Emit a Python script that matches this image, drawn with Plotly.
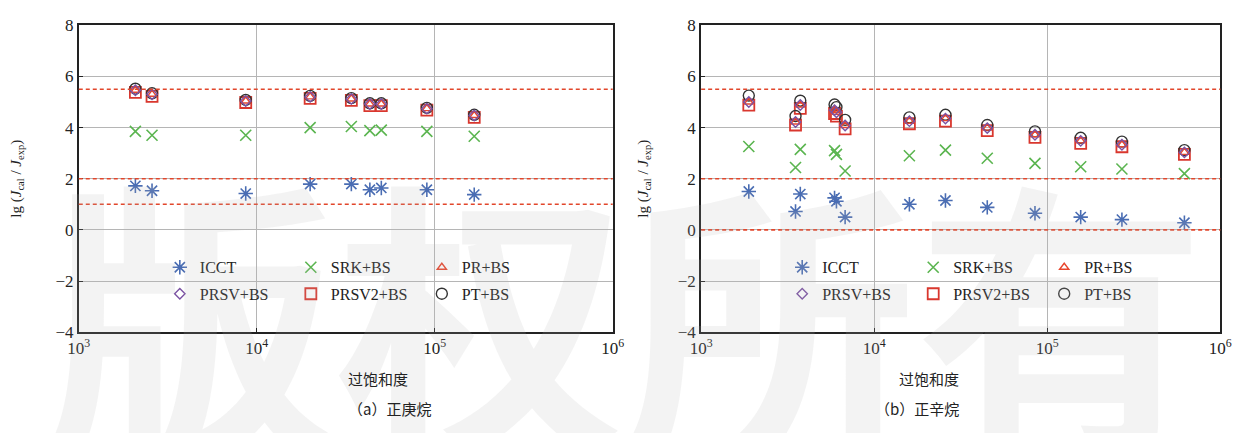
import plotly.graph_objects as go

# ---- panel (a): n-heptane ----
a_x = [2080, 2580, 8670, 19950, 34000, 43200, 50100, 90300, 166700]
a_icct = [1.72, 1.53, 1.42, 1.79, 1.79, 1.57, 1.64, 1.57, 1.38]
a_srk = [3.85, 3.70, 3.70, 4.00, 4.04, 3.88, 3.90, 3.85, 3.66]
a_pr = [5.46, 5.30, 5.04, 5.20, 5.12, 4.92, 4.92, 4.74, 4.47]
a_prsv = [5.46, 5.30, 5.04, 5.20, 5.12, 4.92, 4.92, 4.74, 4.47]
a_prsv2 = [5.38, 5.22, 4.98, 5.14, 5.06, 4.86, 4.86, 4.68, 4.40]
a_pt = [5.52, 5.34, 5.08, 5.24, 5.15, 4.95, 4.95, 4.77, 4.50]
a_ref = [5.5, 2.0, 1.0]

# ---- panel (b): n-octane ----
b_x = [1885, 3510, 3740, 5900, 6050, 6790, 15970, 25800, 45000, 84900, 156000, 270000, 620000]
b_icct = [1.50, 0.72, 1.40, 1.25, 1.12, 0.50, 1.00, 1.15, 0.88, 0.65, 0.50, 0.40, 0.28]
b_srk = [3.26, 2.44, 3.15, 3.10, 2.95, 2.30, 2.90, 3.12, 2.80, 2.60, 2.47, 2.38, 2.20]
b_pr = [5.00, 4.22, 4.88, 4.68, 4.60, 4.08, 4.25, 4.35, 3.98, 3.72, 3.48, 3.33, 3.03]
b_prsv = [5.00, 4.22, 4.88, 4.68, 4.60, 4.08, 4.25, 4.35, 3.98, 3.72, 3.48, 3.33, 3.03]
b_prsv2 = [4.88, 4.10, 4.75, 4.55, 4.45, 3.95, 4.15, 4.25, 3.88, 3.62, 3.38, 3.25, 2.95]
b_pt = [5.25, 4.45, 5.05, 4.90, 4.80, 4.30, 4.40, 4.50, 4.10, 3.85, 3.60, 3.45, 3.12]
b_ref = [5.5, 2.0, 0.0]

series_names = ["ICCT", "SRK+BS", "PR+BS", "PRSV+BS", "PRSV2+BS", "PT+BS"]
x_tickvals = [1e3, 1e4, 1e5, 1e6]
x_ticktext = ["10<sup>3</sup>", "10<sup>4</sup>", "10<sup>5</sup>", "10<sup>6</sup>"]
y_tickvals = [-4, -2, 0, 2, 4, 6, 8]

styles = {
    "ICCT": dict(symbol="asterisk-open", size=12, color="#4a6db3", line=dict(width=1.6, color="#4a6db3")),
    "SRK+BS": dict(symbol="x-thin-open", size=11, color="#5bb550", line=dict(width=1.6, color="#5bb550")),
    "PR+BS": dict(symbol="triangle-up-open", size=8, color="#e8452c", line=dict(width=1.4, color="#e8452c")),
    "PRSV+BS": dict(symbol="diamond-open", size=8, color="#7b52a3", line=dict(width=1.4, color="#7b52a3")),
    "PRSV2+BS": dict(symbol="square-open", size=11, color="#d9372e", line=dict(width=1.8, color="#d9372e")),
    "PT+BS": dict(symbol="circle-open", size=11, color="#333333", line=dict(width=1.4, color="#333333")),
}

SERIF = "Liberation Serif, Times New Roman, serif"
CJK = "Noto Sans CJK SC, sans-serif"

fig = go.Figure()

draw_order = ["PRSV2+BS", "PT+BS", "PR+BS", "PRSV+BS", "SRK+BS", "ICCT"]
panels = [
    ("x", "y", a_x, dict(zip(series_names, [a_icct, a_srk, a_pr, a_prsv, a_prsv2, a_pt])), ("legend", "legend2")),
    ("x2", "y2", b_x, dict(zip(series_names, [b_icct, b_srk, b_pr, b_prsv, b_prsv2, b_pt])), ("legend3", "legend4")),
]
row1 = ["ICCT", "SRK+BS", "PR+BS"]
for xa, ya, xs, vals, (lg1, lg2) in panels:
    for name in draw_order:
        st = styles[name]
        fig.add_trace(go.Scatter(
            x=xs, y=vals[name], mode="markers", name=name,
            xaxis=xa, yaxis=ya,
            marker=dict(symbol=st["symbol"], size=st["size"], color=st["color"], line=st["line"]),
            legend=lg1 if name in row1 else lg2,
            legendrank=series_names.index(name),
        ))

# dashed reference levels
for xa, ya, refs in [("x", "y", a_ref), ("x2", "y2", b_ref)]:
    for r in refs:
        fig.add_shape(type="line", xref=f"{xa} domain", yref=ya, x0=0, x1=1, y0=r, y1=r,
                      line=dict(color="#e2462b", width=1.6, dash="4px,3px"), layer="above")

axis_common = dict(
    showline=True, linecolor="#222222", linewidth=1.8, mirror=True,
    showgrid=True, gridcolor="#b5b5b5", gridwidth=1.3,
    ticks="inside", ticklen=4, tickcolor="#222222",
    tickfont=dict(family=SERIF, size=17, color="#222222"),
    zeroline=False,
)
y_title = "lg (<i>J</i><sub>cal</sub> / <i>J</i><sub>exp</sub>)"
fig.update_layout(
    xaxis=dict(type="log", range=[3, 6], domain=[0.0551, 0.4892], anchor="y",
               tickvals=x_tickvals, ticktext=x_ticktext, **axis_common),
    yaxis=dict(range=[-4, 8], domain=[0.2194, 0.9607], anchor="x", tickvals=y_tickvals,
               title=dict(text=y_title, font=dict(family=SERIF, size=15, color="#222222"), standoff=30),
               **axis_common),
    xaxis2=dict(type="log", range=[3, 6], domain=[0.5611, 0.9832], anchor="y2",
                tickvals=x_tickvals, ticktext=x_ticktext, **axis_common),
    yaxis2=dict(range=[-4, 8], domain=[0.2194, 0.9607], anchor="x2", tickvals=y_tickvals,
                title=dict(text=y_title, font=dict(family=SERIF, size=15, color="#222222"), standoff=26),
                **axis_common),
)

legend_common = dict(orientation="h", entrywidth=86, entrywidthmode="pixels",
                     font=dict(family=SERIF, size=16, color="#222222"),
                     bgcolor="rgba(0,0,0,0)", xanchor="left", yanchor="middle",
                     itemclick=False, itemdoubleclick=False, tracegroupgap=0)
fig.update_layout(
    legend=dict(x=0.121, y=0.376, **legend_common),
    legend2=dict(x=0.121, y=0.312, **legend_common),
    legend3=dict(x=0.627, y=0.376, **legend_common),
    legend4=dict(x=0.627, y=0.312, **legend_common),
)

annotations = [
    # faint background mark
    dict(text="<b>版权所有</b>", xref="paper", yref="paper", x=0.5, y=0.28, showarrow=False,
         font=dict(family=CJK, size=290, color="rgba(180,180,180,0.16)"), xanchor="center", yanchor="middle"),
    dict(text="过饱和度", xref="paper", yref="paper", x=0.272, y=(433 - 386) / 433, showarrow=False,
         font=dict(family=CJK, size=15, color="#222222"), yanchor="middle"),
    dict(text="过饱和度", xref="paper", yref="paper", x=0.772, y=(433 - 386) / 433, showarrow=False,
         font=dict(family=CJK, size=15, color="#222222"), yanchor="middle"),
    dict(text="（a）正庚烷", xref="paper", yref="paper", x=0.272, y=(433 - 418) / 433, showarrow=False,
         font=dict(family=CJK, size=15, color="#222222"), yanchor="middle"),
    dict(text="（b）正辛烷", xref="paper", yref="paper", x=0.772, y=(433 - 418) / 433, showarrow=False,
         font=dict(family=CJK, size=15, color="#222222"), yanchor="middle"),
]

fig.update_layout(
    width=1253, height=433,
    margin=dict(l=0, r=0, t=0, b=0),
    paper_bgcolor="white", plot_bgcolor="white",
    annotations=annotations,
    showlegend=True,
)

fig.write_html("out.html", config={"displayModeBar": False})
